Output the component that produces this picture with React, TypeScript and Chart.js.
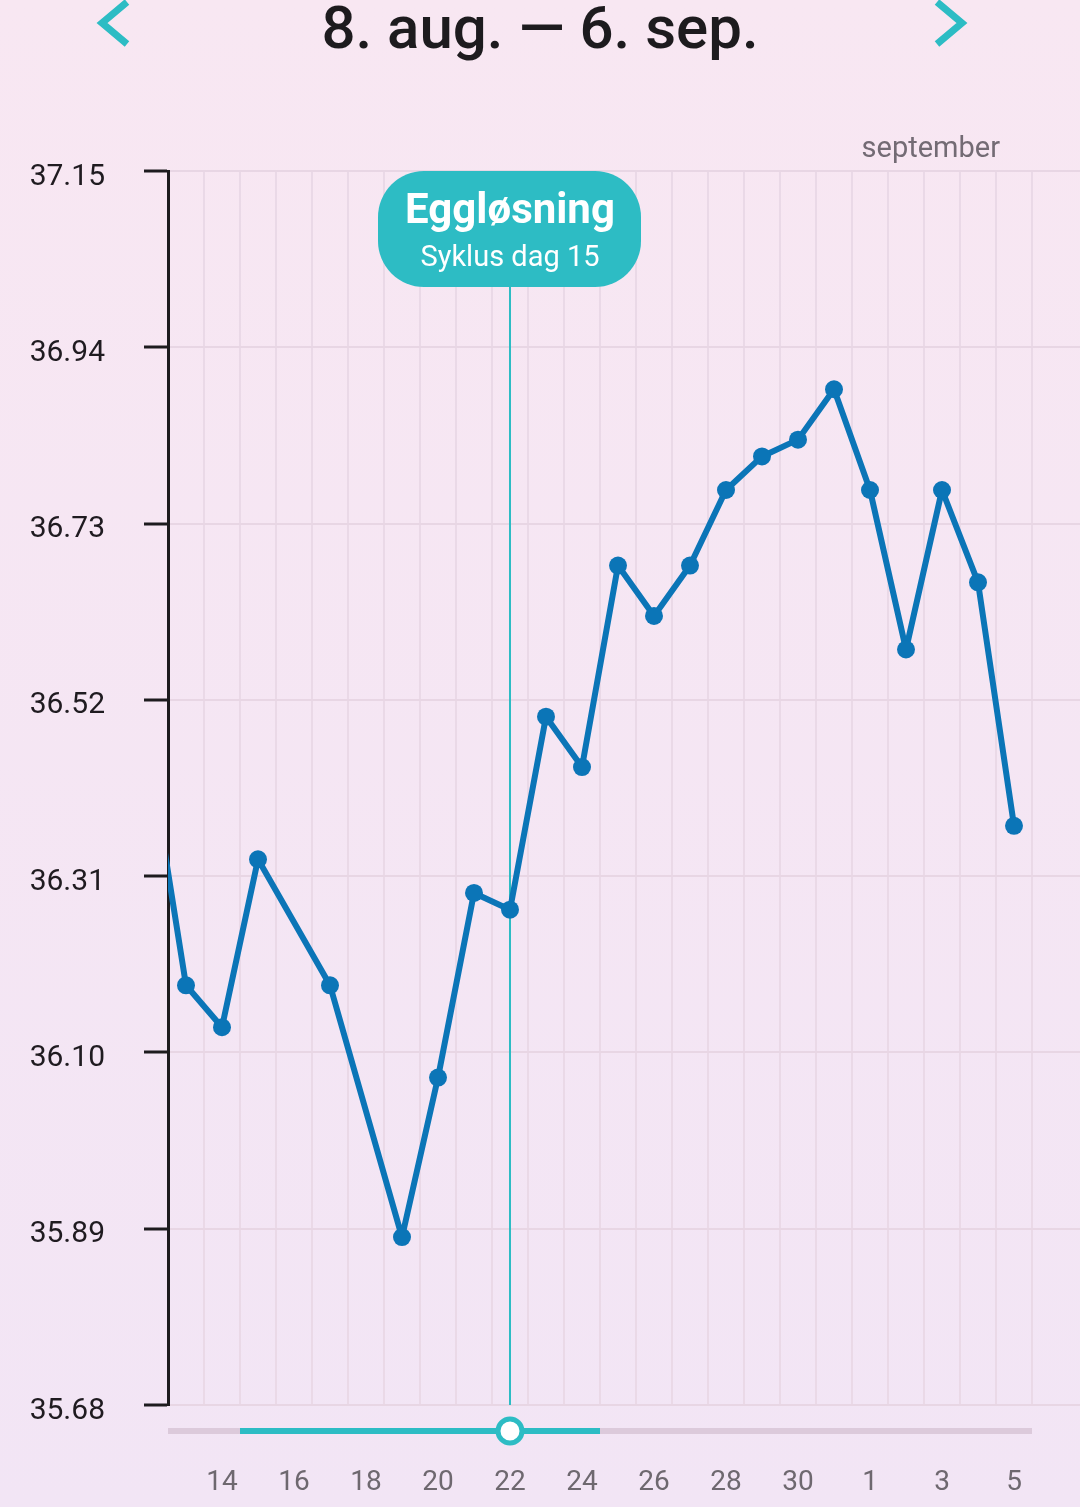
import React, { useEffect, useRef } from "react";
import { Chart, registerables } from "chart.js";

Chart.register(...registerables);

// ---- data ----
const DAYS = [12, 13, 14, 15, 16, 17, 18, 19, 20, 21, 22, 23, 24, 25, 26, 27, 28, 29, 30, 31, 32, 33, 34, 35, 36];
const TEMPS: (number | null)[] = [
  36.45, 36.18, 36.13, 36.33, null, 36.18, null, 35.88, 36.07, 36.29, 36.27, 36.5, 36.44, 36.68, 36.62, 36.68,
  36.77, 36.81, 36.83, 36.89, 36.77, 36.58, 36.77, 36.66, 36.37,
];
const Y_TICKS = [35.68, 35.89, 36.1, 36.31, 36.52, 36.73, 36.94, 37.15];
const X_TICK_DAYS = [14, 16, 18, 20, 22, 24, 26, 28, 30, 32, 34, 36];
const X_TICK_LABELS = ["14", "16", "18", "20", "22", "24", "26", "28", "30", "1", "3", "5"];
const GRID_DAYS = [
  13.5, 14.5, 15.5, 16.5, 17.5, 18.5, 19.5, 20.5, 21.5, 22.5, 23.5, 24.5, 25.5, 26.5, 27.5, 28.5, 29.5, 30.5,
  31.5, 32.5, 33.5, 34.5, 35.5, 36.5,
];
const TITLE = "8. aug. — 6. sep.";
const MONTH_LABEL = "september";
const OVULATION_DAY = 22;
const OVULATION_TITLE = "Eggløsning";
const OVULATION_SUB = "Syklus dag 15";
const RANGE_START = 14.5;
const RANGE_END = 24.5;
const TRACK_END = 36.5;
const X_MIN = 12.5;
const X_MAX = 12.5 + 912 / 36;

const TEAL = "#2dbcc4";
const BLUE = "#0b75b7";
const FONT = "Roboto, 'Noto Sans', sans-serif";

function roundRect(ctx: CanvasRenderingContext2D, x: number, y: number, w: number, h: number, r: number) {
  ctx.beginPath();
  ctx.moveTo(x + r, y);
  ctx.lineTo(x + w - r, y);
  ctx.arcTo(x + w, y, x + w, y + r, r);
  ctx.lineTo(x + w, y + h - r);
  ctx.arcTo(x + w, y + h, x + w - r, y + h, r);
  ctx.lineTo(x + r, y + h);
  ctx.arcTo(x, y + h, x, y + h - r, r);
  ctx.lineTo(x, y + r);
  ctx.arcTo(x, y, x + r, y, r);
  ctx.closePath();
}

const BOX_H = 116;

const overlay = {
  id: "overlay",
  beforeDatasetsDraw(chart: any) {
    const { ctx, chartArea, scales } = chart;
    const px = scales.x.getPixelForValue(OVULATION_DAY);
    ctx.save();
    ctx.strokeStyle = TEAL;
    ctx.lineWidth = 2;
    ctx.beginPath();
    ctx.moveTo(px, chartArea.top + BOX_H);
    ctx.lineTo(px, chartArea.bottom);
    ctx.stroke();
    ctx.restore();
  },
  afterDraw(chart: any) {
    const { ctx, chartArea, scales } = chart;
    const x = scales.x;
    ctx.save();
    // title
    ctx.fillStyle = "#1d1b1e";
    ctx.font = `500 60px ${FONT}`;
    ctx.textAlign = "center";
    ctx.textBaseline = "alphabetic";
    ctx.fillText(TITLE, 540, 48);
    // chevrons
    ctx.strokeStyle = TEAL;
    ctx.lineWidth = 7;
    ctx.lineJoin = "miter";
    ctx.beginPath();
    ctx.moveTo(127, 2);
    ctx.lineTo(102, 23);
    ctx.lineTo(127, 44);
    ctx.stroke();
    ctx.beginPath();
    ctx.moveTo(937, 2);
    ctx.lineTo(962, 23);
    ctx.lineTo(937, 44);
    ctx.stroke();
    // month label
    ctx.fillStyle = "#736b74";
    ctx.font = `29px ${FONT}`;
    ctx.textAlign = "right";
    ctx.fillText(MONTH_LABEL, 1000, 157);
    // annotation box
    const px = x.getPixelForValue(OVULATION_DAY);
    const bw = 263;
    ctx.fillStyle = TEAL;
    roundRect(ctx, px - 132, chartArea.top, bw, BOX_H, 46);
    ctx.fill();
    ctx.fillStyle = "#ffffff";
    ctx.textAlign = "center";
    ctx.font = `bold 42px ${FONT}`;
    ctx.fillText(OVULATION_TITLE, px, 223);
    ctx.font = `29px ${FONT}`;
    ctx.fillText(OVULATION_SUB, px, 266);
    // slider
    const ty = 1431;
    ctx.lineCap = "butt";
    ctx.strokeStyle = "#dccadb";
    ctx.lineWidth = 6;
    ctx.beginPath();
    ctx.moveTo(chartArea.left, ty);
    ctx.lineTo(x.getPixelForValue(TRACK_END), ty);
    ctx.stroke();
    ctx.strokeStyle = TEAL;
    ctx.beginPath();
    ctx.moveTo(x.getPixelForValue(RANGE_START), ty);
    ctx.lineTo(x.getPixelForValue(RANGE_END), ty);
    ctx.stroke();
    ctx.beginPath();
    ctx.arc(px, ty, 12, 0, Math.PI * 2);
    ctx.fillStyle = "#ffffff";
    ctx.fill();
    ctx.lineWidth = 5;
    ctx.stroke();
    ctx.restore();
  },
};

export default function App() {
  const ref = useRef<HTMLCanvasElement>(null);
  useEffect(() => {
    if (!ref.current) return;
    const chart = new Chart(ref.current, {
      type: "line",
      data: {
        datasets: [
          {
            data: DAYS.map((d, i) => ({ x: d, y: TEMPS[i] })) as any,
            borderColor: BLUE,
            backgroundColor: BLUE,
            borderWidth: 6,
            borderJoinStyle: "round",
            pointRadius: 9,
            pointBackgroundColor: BLUE,
            pointBorderWidth: 0,
            spanGaps: true,
            tension: 0,
            clip: 0 as any,
          },
        ],
      },
      options: {
        responsive: false,
        animation: false,
        devicePixelRatio: 1,
        layout: { autoPadding: false, padding: { top: 171, left: 0, right: 0, bottom: 0 } },
        plugins: { legend: { display: false }, tooltip: { enabled: false } },
        scales: {
          xg: {
            type: "linear",
            position: "bottom",
            min: X_MIN,
            max: X_MAX,
            afterBuildTicks: (s: any) => {
              s.ticks = GRID_DAYS.map((v) => ({ value: v }));
            },
            afterFit: (s: any) => {
              s.height = 0;
            },
            ticks: { display: false },
            grid: { color: "#ead9e7", lineWidth: 2, drawTicks: false },
            border: { display: false },
          },
          x: {
            type: "linear",
            position: "bottom",
            min: X_MIN,
            max: X_MAX,
            afterBuildTicks: (s: any) => {
              s.ticks = X_TICK_DAYS.map((v) => ({ value: v }));
            },
            afterFit: (s: any) => {
              s.height = 102;
            },
            ticks: {
              autoSkip: false,
              maxRotation: 0,
              padding: 0,
              color: "#6e686f",
              font: { family: FONT, size: 28 },
              callback: (v: any) => {
                const i = X_TICK_DAYS.indexOf(Number(v));
                return i >= 0 ? X_TICK_LABELS[i] : "";
              },
            },
            grid: { display: false, drawTicks: true, tickLength: 61 },
            border: { display: false },
          },
          y: {
            type: "linear",
            min: 35.68,
            max: 37.15,
            afterBuildTicks: (s: any) => {
              s.ticks = Y_TICKS.map((v) => ({ value: v }));
            },
            afterFit: (s: any) => {
              s.width = 168;
            },
            ticks: {
              padding: 39,
              labelOffset: 6,
              color: "#1f1b20",
              font: { family: FONT, size: 30 },
              callback: (v: any) => Number(v).toFixed(2),
            },
            grid: {
              color: "#e8d6e4",
              lineWidth: 2,
              tickColor: "#1d1b1e",
              tickLength: 24,
              tickWidth: 3,
            },
            border: { color: "#1d1b1e", width: 3 },
          },
        },
      },
      plugins: [overlay],
    });
    return () => chart.destroy();
  }, []);
  return (
    <div
      style={{
        position: "absolute",
        left: 0,
        top: 0,
        width: 1080,
        height: 1507,
        background: "linear-gradient(#f8e7f2, #f2e5f5)",
      }}
    >
      <canvas ref={ref} width={1080} height={1507} style={{ width: 1080, height: 1507, display: "block" }} />
    </div>
  );
}
